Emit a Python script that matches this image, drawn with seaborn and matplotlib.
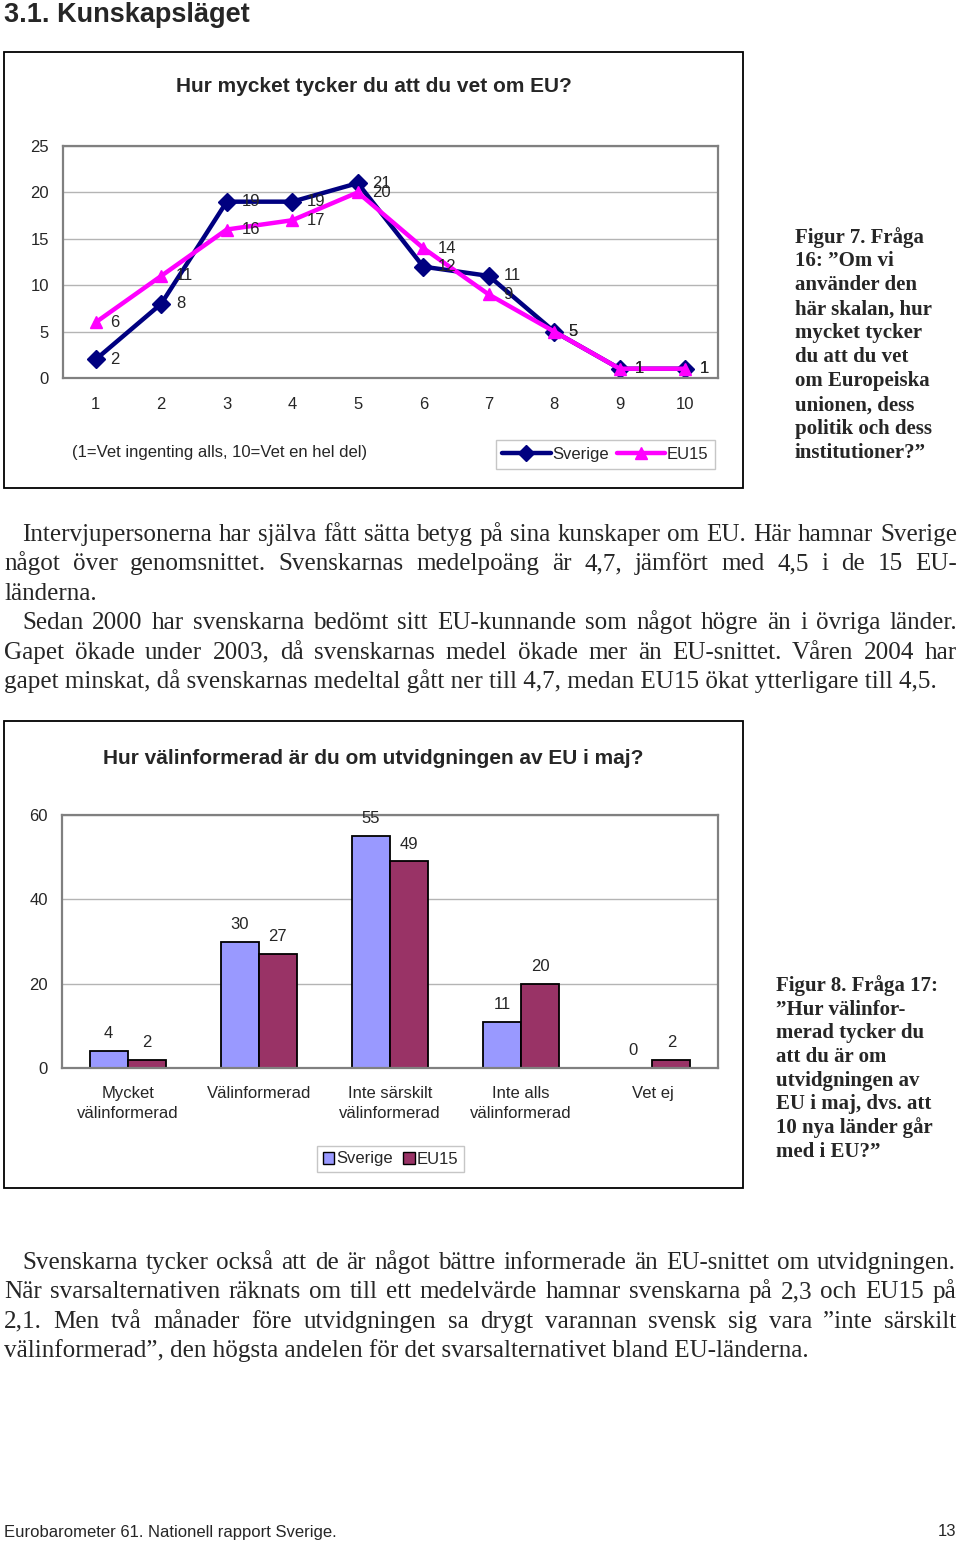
import matplotlib
matplotlib.use("Agg")
import matplotlib.pyplot as plt
from matplotlib.patches import Rectangle, Patch
from matplotlib.lines import Line2D
from matplotlib.font_manager import FontProperties
import seaborn as sns
import pandas as pd

# ---------------- data ----------------
scale = [1, 2, 3, 4, 5, 6, 7, 8, 9, 10]
sverige_line = [2, 8, 19, 19, 21, 12, 11, 5, 1, 1]
eu15_line = [6, 11, 16, 17, 20, 14, 9, 5, 1, 1]

bar_cats = ["Mycket\nvälinformerad", "Välinformerad", "Inte särskilt\nvälinformerad",
            "Inte alls\nvälinformerad", "Vet ej"]
sverige_bar = [4, 30, 55, 11, 0]
eu15_bar = [2, 27, 49, 20, 2]

series = ["Sverige", "EU15"]

title1 = "Hur mycket tycker du att du vet om EU?"
title2 = "Hur välinformerad är du om utvidgningen av EU i maj?"
scale_note = "(1=Vet ingenting alls, 10=Vet en hel del)"
header = "3.1. Kunskapsläget"
footer_left = "Eurobarometer 61. Nationell rapport Sverige."
footer_right = "13"

fig7_lines = ["Figur 7. Fråga", "16: ”Om vi", "använder den", "här skalan, hur",
              "mycket tycker", "du att du vet", "om Europeiska", "unionen, dess",
              "politik och dess", "institutioner?”"]
fig8_lines = ["Figur 8. Fråga 17:", "”Hur välinfor-", "merad tycker du", "att du är om",
              "utvidgningen av", "EU i maj, dvs. att", "10 nya länder går", "med i EU?”"]

para1 = [
    ("Intervjupersonerna har själva fått sätta betyg på sina kunskaper om EU. Här hamnar Sverige", True, True),
    ("något över genomsnittet. Svenskarnas medelpoäng är 4,7, jämfört med 4,5 i de 15 EU-", False, True),
    ("länderna.", False, False),
    ("Sedan 2000 har svenskarna bedömt sitt EU-kunnande som något högre än i övriga länder.", True, True),
    ("Gapet ökade under 2003, då svenskarnas medel ökade mer än EU-snittet. Våren 2004 har", False, True),
    ("gapet minskat, då svenskarnas medeltal gått ner till 4,7, medan EU15 ökat ytterligare till 4,5.", False, False),
]
para2 = [
    ("Svenskarna tycker också att de är något bättre informerade än EU-snittet om utvidgningen.", True, True),
    ("När svarsalternativen räknats om till ett medelvärde hamnar svenskarna på 2,3 och EU15 på", False, True),
    ("2,1. Men två månader före utvidgningen sa drygt varannan svensk sig vara ”inte särskilt", False, True),
    ("välinformerad”, den högsta andelen för det svarsalternativet bland EU-länderna.", False, False),
]

# ---------------- style ----------------
NAVY = "#000080"
MAGENTA = "#FF00FF"
BAR_SV = "#9999FF"
BAR_EU = "#993366"
GRID = "#b4b4b4"
SPINE = "#808080"
FS = 12  # chart text size

sns.set_style("white")
plt.rcParams["font.family"] = ["Liberation Sans", "DejaVu Sans"]

W, H = 960, 1541
fig = plt.figure(figsize=(W / 100, H / 100), dpi=100)
fig.patch.set_facecolor("white")


def fx(x):
    return x / W


def fy(y):
    return 1 - y / H


def px_axes(l, t, r, b):
    return fig.add_axes([fx(l), fy(b), (r - l) / W, (b - t) / H])


# outer chart boxes
for (l, t, r, b) in [(4, 52, 743, 488), (4, 721, 743, 1188)]:
    fig.add_artist(Rectangle((fx(l), fy(b)), (r - l) / W, (b - t) / H,
                             transform=fig.transFigure, fill=False,
                             ec="black", lw=1.3))

# ---------------- line chart ----------------
ax1 = px_axes(63, 146, 718, 378)
df_line = pd.DataFrame({
    "Skala": scale + scale,
    "Procent": sverige_line + eu15_line,
    "Serie": ["Sverige"] * len(scale) + ["EU15"] * len(scale),
})
sns.lineplot(data=df_line, x="Skala", y="Procent", hue="Serie", style="Serie",
             hue_order=series, style_order=series,
             markers={"Sverige": "D", "EU15": "^"}, dashes=False,
             palette={"Sverige": NAVY, "EU15": MAGENTA},
             linewidth=3.2, markersize=9, legend=False, ax=ax1)
for ln in ax1.lines:
    ln.set_markeredgecolor(ln.get_color())
    ln.set_markeredgewidth(1)

ax1.set_xlim(0.5, 10.5)
ax1.set_ylim(0, 25)
ax1.set_xticks(scale)
ax1.set_xticklabels([str(s) for s in scale])
ax1.set_yticks([0, 5, 10, 15, 20, 25])
ax1.set_xlabel("")
ax1.set_ylabel("")
ax1.tick_params(axis="x", length=0, pad=14, labelsize=FS)
ax1.tick_params(axis="y", length=0, pad=10, labelsize=FS)
ax1.yaxis.grid(True, color=GRID, lw=1)
ax1.xaxis.grid(False)
ax1.set_axisbelow(True)
for sp in ax1.spines.values():
    sp.set_color(SPINE)
    sp.set_linewidth(1.6)

for vals in [sverige_line, eu15_line]:
    for xv, yv in zip(scale, vals):
        ax1.annotate(str(yv), (xv, yv), xytext=(10.5, 0), textcoords="offset points",
                     ha="left", va="center", fontsize=FS)

fig.text(fx(374), fy(92.5), title1, ha="center", va="baseline",
         fontsize=15, fontweight="bold")
fig.text(fx(72), fy(457.5), scale_note, ha="left", va="baseline", fontsize=FS)

h1 = [Line2D([], [], color=NAVY, lw=3.2, marker="D", ms=8, mec=NAVY),
      Line2D([], [], color=MAGENTA, lw=3.2, marker="^", ms=9, mec=MAGENTA)]
leg1 = fig.legend(h1, series, loc="center", bbox_to_anchor=(fx(605.5), fy(454.5)),
                  ncol=2, frameon=True, fancybox=False, edgecolor="#b8b8b8",
                  handlelength=2.9, handletextpad=0.12, columnspacing=0.45,
                  borderpad=0.4, fontsize=FS)
leg1.get_frame().set_linewidth(1.0)

# ---------------- bar chart ----------------
ax2 = px_axes(62, 815, 718, 1068)
df_bar = pd.DataFrame({
    "Svar": bar_cats + bar_cats,
    "Procent": sverige_bar + eu15_bar,
    "Serie": ["Sverige"] * len(bar_cats) + ["EU15"] * len(bar_cats),
})
sns.barplot(data=df_bar, x="Svar", y="Procent", hue="Serie", hue_order=series,
            order=bar_cats, palette={"Sverige": BAR_SV, "EU15": BAR_EU},
            width=0.58, saturation=1, edgecolor="black", linewidth=1.3,
            errorbar=None, legend=False, ax=ax2)
ax2.set_xlim(-0.5, len(bar_cats) - 0.5)
ax2.set_ylim(0, 60)
ax2.set_yticks([0, 20, 40, 60])
ax2.set_xlabel("")
ax2.set_ylabel("")
ax2.tick_params(axis="x", which="major", length=0, pad=13, labelsize=FS)
ax2.tick_params(axis="y", length=0, pad=10, labelsize=FS)
for lab in ax2.get_xticklabels():
    lab.set_linespacing(1.45)
ax2.set_xticks([i - 0.5 for i in range(len(bar_cats) + 1)], minor=True)
ax2.tick_params(axis="x", which="minor", length=5, width=1, color=SPINE, direction="out")
ax2.yaxis.grid(True, color=GRID, lw=1)
ax2.xaxis.grid(False)
ax2.set_axisbelow(True)
for sp in ax2.spines.values():
    sp.set_color(SPINE)
    sp.set_linewidth(1.6)
for cont in ax2.containers:
    ax2.bar_label(cont, fmt="%g", padding=7, fontsize=FS)

fig.text(fx(373), fy(763.5), title2, ha="center", va="baseline",
         fontsize=15, fontweight="bold")

h2 = [Patch(facecolor=BAR_SV, edgecolor="black", lw=1),
      Patch(facecolor=BAR_EU, edgecolor="black", lw=1)]
leg2 = fig.legend(h2, series, loc="center", bbox_to_anchor=(fx(390.5), fy(1159)),
                  ncol=2, frameon=True, fancybox=False, edgecolor="#b8b8b8",
                  handlelength=0.7, handleheight=0.7, handletextpad=0.12,
                  columnspacing=0.6, borderpad=0.35, fontsize=FS)
leg2.get_frame().set_linewidth(1.0)

# ---------------- page text ----------------
fig.text(fx(4), fy(21.5), header, ha="left", va="baseline", fontsize=19.5, fontweight="bold")
fig.text(fx(4), fy(1536.5), footer_left, ha="left", va="baseline", fontsize=12)
fig.text(fx(956), fy(1536.5), footer_right, ha="right", va="baseline", fontsize=12)

serif_b = FontProperties(family=["Liberation Serif", "DejaVu Serif"], weight="bold", size=15)
for i, s in enumerate(fig7_lines):
    fig.text(fx(795), fy(242.5 + 23.95 * i), s, fontproperties=serif_b,
             ha="left", va="baseline")
for i, s in enumerate(fig8_lines):
    fig.text(fx(776), fy(991 + 23.7 * i), s, fontproperties=serif_b,
             ha="left", va="baseline")

serif = FontProperties(family=["Liberation Serif", "DejaVu Serif"], size=18.1)
renderer = fig.canvas.get_renderer()


def text_width(s):
    t = fig.text(0, 0, s, fontproperties=serif)
    w = t.get_window_extent(renderer).width
    t.remove()
    return w


def draw_line(s, x0, x1, ybase, justify):
    if not justify:
        fig.text(fx(x0), fy(ybase), s, fontproperties=serif, ha="left", va="baseline")
        return
    words = s.split(" ")
    widths = [text_width(w) for w in words]
    gap = (x1 - x0 - sum(widths)) / (len(words) - 1)
    x = x0
    for w, wd in zip(words, widths):
        fig.text(fx(x), fy(ybase), w, fontproperties=serif, ha="left", va="baseline")
        x += wd + gap


for i, (s, indent, just) in enumerate(para1):
    draw_line(s, 22 if indent else 4, 957, 541 + 29.4 * i, just)
for i, (s, indent, just) in enumerate(para2):
    draw_line(s, 22 if indent else 4, 956, 1269 + 29.4 * i, just)

fig.savefig("out.png", dpi=100, facecolor="white")
